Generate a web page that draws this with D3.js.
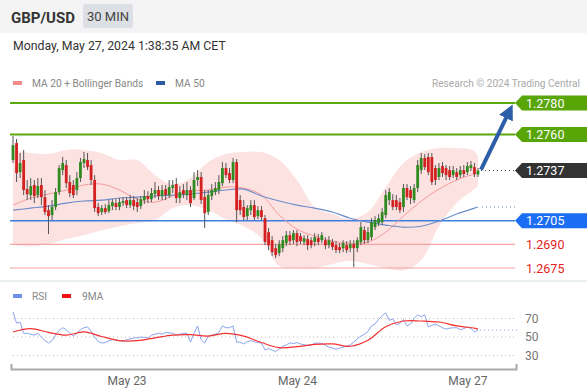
<!DOCTYPE html>
<html><head><meta charset="utf-8">
<script src="https://cdn.jsdelivr.net/npm/d3@7"></script>
<style>
body{margin:0;background:#fff;}
svg{display:block;font-family:Roboto,"Liberation Sans",Arial,sans-serif;}
</style>
</head><body>
<svg id="c" width="587" height="391"></svg>
<script>
// ---- data (GBP/USD, 30 min candles, May 22 08:00 -> May 27 01:30) ----
const openP = [1.27437,1.27545,1.27360,1.27437,1.27252,1.27214,1.27278,1.27214,1.27278,1.27201,
1.27118,1.27087,1.27138,1.27233,1.27373,1.27405,1.27297,1.27278,1.27246,1.27322,
1.27418,1.27437,1.27405,1.27310,1.27138,1.27106,1.27131,1.27112,1.27144,1.27163,
1.27138,1.27163,1.27182,1.27150,1.27182,1.27169,1.27144,1.27182,1.27208,1.27188,
1.27220,1.27246,1.27208,1.27252,1.27214,1.27259,1.27284,1.27195,1.27246,1.27214,
1.27246,1.27195,1.27310,1.27329,1.27201,1.27106,1.27208,1.27233,1.27246,1.27290,
1.27386,1.27354,1.27310,1.27424,1.27182,1.27138,1.27080,1.27118,1.27150,1.27080,
1.27118,1.27067,1.26978,1.26927,1.26876,1.26845,1.26876,1.26908,1.26959,1.26927,
1.26972,1.26953,1.26915,1.26934,1.26927,1.26915,1.26940,1.26927,1.26927,1.26895,
1.26915,1.26895,1.26883,1.26876,1.26895,1.26876,1.26902,1.26876,1.26915,1.26991,
1.26927,1.26946,1.27010,1.27036,1.27042,1.27087,1.27182,1.27182,1.27182,1.27169,
1.27138,1.27259,1.27246,1.27182,1.27259,1.27373,1.27450,1.27456,1.27456,1.27386,
1.27329,1.27399,1.27386,1.27373,1.27341,1.27360,1.27341,1.27373,1.27360,1.27386,
1.27392,1.27345];
const highP = [1.27590,1.27571,1.27482,1.27501,1.27310,1.27322,1.27310,1.27322,1.27322,1.27246,
1.27150,1.27182,1.27259,1.27405,1.27456,1.27437,1.27341,1.27310,1.27360,1.27450,
1.27488,1.27482,1.27437,1.27341,1.27163,1.27150,1.27157,1.27182,1.27188,1.27188,
1.27195,1.27201,1.27201,1.27214,1.27208,1.27195,1.27208,1.27246,1.27239,1.27259,
1.27297,1.27271,1.27278,1.27278,1.27310,1.27310,1.27322,1.27271,1.27284,1.27297,
1.27271,1.27360,1.27373,1.27360,1.27246,1.27246,1.27284,1.27297,1.27341,1.27424,
1.27418,1.27386,1.27450,1.27443,1.27214,1.27182,1.27150,1.27182,1.27182,1.27144,
1.27144,1.27087,1.27004,1.26953,1.26902,1.26927,1.26953,1.26985,1.26985,1.26991,
1.26991,1.26972,1.26959,1.26959,1.26946,1.26972,1.26966,1.26978,1.26946,1.26953,
1.26934,1.26921,1.26908,1.26927,1.26921,1.26927,1.26927,1.26946,1.27042,1.27016,
1.27010,1.27067,1.27080,1.27093,1.27131,1.27246,1.27259,1.27220,1.27214,1.27195,
1.27284,1.27284,1.27271,1.27284,1.27437,1.27482,1.27475,1.27482,1.27482,1.27405,
1.27418,1.27424,1.27405,1.27399,1.27399,1.27386,1.27399,1.27405,1.27424,1.27431,
1.27418,1.27386];
const lowP = [1.27418,1.27297,1.27322,1.27214,1.27182,1.27182,1.27163,1.27195,1.27150,1.27087,
1.26966,1.27055,1.27118,1.27214,1.27341,1.27259,1.27201,1.27195,1.27214,1.27297,
1.27386,1.27373,1.27278,1.27106,1.27080,1.27087,1.27093,1.27099,1.27118,1.27118,
1.27118,1.27144,1.27131,1.27131,1.27118,1.27106,1.27125,1.27157,1.27163,1.27169,
1.27195,1.27182,1.27182,1.27182,1.27195,1.27227,1.27163,1.27163,1.27195,1.27182,
1.27138,1.27182,1.27271,1.27157,1.27004,1.27087,1.27182,1.27214,1.27220,1.27271,
1.27322,1.27290,1.27290,1.27042,1.27087,1.27055,1.27055,1.27087,1.27055,1.27061,
1.27055,1.26895,1.26864,1.26825,1.26813,1.26825,1.26851,1.26889,1.26895,1.26902,
1.26889,1.26902,1.26895,1.26864,1.26876,1.26889,1.26895,1.26908,1.26870,1.26876,
1.26864,1.26845,1.26845,1.26851,1.26845,1.26851,1.26755,1.26851,1.26895,1.26902,
1.26908,1.26927,1.26991,1.27016,1.27023,1.27067,1.27150,1.27118,1.27118,1.27099,
1.27106,1.27182,1.27157,1.27163,1.27233,1.27348,1.27373,1.27341,1.27278,1.27278,
1.27310,1.27329,1.27310,1.27310,1.27322,1.27310,1.27322,1.27329,1.27341,1.27367,
1.27329,1.27329];
const closeP = [1.27532,1.27354,1.27418,1.27246,1.27220,1.27271,1.27208,1.27271,1.27201,1.27106,
1.27080,1.27138,1.27233,1.27386,1.27418,1.27290,1.27227,1.27214,1.27322,1.27424,
1.27443,1.27392,1.27310,1.27131,1.27099,1.27131,1.27106,1.27150,1.27169,1.27138,
1.27169,1.27176,1.27150,1.27182,1.27144,1.27138,1.27188,1.27208,1.27188,1.27227,
1.27246,1.27208,1.27246,1.27214,1.27265,1.27278,1.27195,1.27233,1.27220,1.27246,
1.27163,1.27310,1.27329,1.27182,1.27099,1.27214,1.27246,1.27259,1.27297,1.27386,
1.27341,1.27310,1.27424,1.27118,1.27118,1.27074,1.27131,1.27150,1.27074,1.27118,
1.27074,1.26915,1.26895,1.26851,1.26832,1.26902,1.26927,1.26959,1.26921,1.26972,
1.26915,1.26921,1.26940,1.26895,1.26895,1.26946,1.26915,1.26959,1.26895,1.26927,
1.26883,1.26864,1.26864,1.26908,1.26864,1.26902,1.26876,1.26927,1.27010,1.26927,
1.26978,1.27042,1.27055,1.27067,1.27106,1.27214,1.27233,1.27138,1.27138,1.27118,
1.27259,1.27201,1.27195,1.27259,1.27405,1.27450,1.27392,1.27360,1.27297,1.27310,
1.27386,1.27354,1.27341,1.27329,1.27373,1.27329,1.27373,1.27348,1.27399,1.27405,
1.27348,1.27370];

// indicator samples (every 5th candle, plus the last candle)
const indIdx = [0,5,10,15,20,25,30,35,40,45,50,55,60,65,70,75,80,85,90,95,100,105,110,115,120,125,130,131];
const bbUpper = [1.27501,1.27482,1.27475,1.27501,1.27501,1.27482,1.27437,1.27437,1.27341,1.27284,1.27322,1.27424,1.27475,1.27488,1.27488,1.27437,1.27310,1.27138,1.27093,1.27061,1.27106,1.27265,1.27418,1.27488,1.27513,1.27513,1.27494,1.27456];
const bbLower = [1.26895,1.26889,1.26902,1.26934,1.26959,1.26991,1.27016,1.27036,1.27055,1.27131,1.27150,1.27118,1.27061,1.27016,1.26940,1.26762,1.26749,1.26749,1.26775,1.26794,1.26775,1.26749,1.26736,1.26800,1.27016,1.27163,1.27252,1.27271];
const ma20 = [1.27150,1.27195,1.27220,1.27246,1.27278,1.27284,1.27246,1.27188,1.27169,1.27208,1.27239,1.27246,1.27265,1.27259,1.27214,1.27087,1.26997,1.26953,1.26921,1.26908,1.26915,1.26978,1.27080,1.27176,1.27252,1.27310,1.27348,1.27354];
const ma50 = [1.27118,1.27131,1.27144,1.27163,1.27176,1.27182,1.27195,1.27201,1.27208,1.27214,1.27220,1.27233,1.27246,1.27252,1.27208,1.27176,1.27150,1.27131,1.27106,1.27067,1.27042,1.27023,1.27010,1.27016,1.27048,1.27093,1.27131,1.27138];

const rsi = [77,65,66,54,54,53,52,54,50,46,43.5,46,52,57,60,58,54,51,54,58,
60,61,56,50,45,43.5,44,46,47,47,46,45.5,47,48,49,49,50,49.5,49,52,
53,54,53,55,54.5,54,52,53,54,54,44.5,54,62,47,43.5,51,52,53,55,62,
60,60,62,44.5,44.5,42.5,45,46,45,44,43.5,36,37.5,36,34,37.5,40,41.5,43.5,43,
44,42.5,41.5,41,41.5,43,43.5,43,41,39,38,37,38,39,40,41.5,44.5,48,51,53,
56,62,64,69,73,76,68,69.5,63,65,69,62,64,70,74,72,74,61,62.5,64,
62,60,58.5,59.5,60,60,58,59,61,59,55.5,57.5];
const rsiMA = [55.4,59,55,52,55.5,50.5,46,46,49,52,52.5,51,54,51,44,38.5,39.5,42,42.5,40,46.5,61,67.3,67.3,66.2,62,59.5,58.5];

const levels = [
  {v:1.2780, label:"1.2780", kind:"res"},
  {v:1.2760, label:"1.2760", kind:"res"},
  {v:1.2705, label:"1.2705", kind:"piv"},
  {v:1.2690, label:"1.2690", kind:"sup"},
  {v:1.2675, label:"1.2675", kind:"sup"}
];
const lastLabel = "1.2737";
const xTickIdx = [32, 80, 128];
const xTickLabels = ["May 23", "May 24", "May 27"];
const rsiTicks = [30, 50, 70];

// ---- drawing ----
const svg = d3.select("#c");
const candles = closeP.map((c,i)=>({i, o:openP[i], h:highP[i], l:lowP[i], c}));
const n = candles.length;

const x = d3.scaleLinear().domain([0, n-1]).range([13, 478]);
const y = d3.scaleLinear().domain([1.2675, 1.2780]).range([268, 103]);
const ry = d3.scaleLinear().domain([30, 70]).range([355.5, 318.5]);

// header
svg.append("rect").attr("x",0).attr("y",0).attr("width",587).attr("height",33).attr("fill","#f4f4f4");
svg.append("text").attr("x",11).attr("y",22.5).attr("font-size",15).attr("font-weight","bold").attr("fill","#333").text("GBP/USD");
svg.append("rect").attr("x",83).attr("y",4).attr("width",50).attr("height",24).attr("rx",2).attr("fill","#dcdfe3");
svg.append("text").attr("x",108).attr("y",21).attr("text-anchor","middle").attr("font-size",13).attr("fill","#444").text("30 MIN");
svg.append("text").attr("x",13).attr("y",49.5).attr("font-size",12.3).attr("fill","#333").text("Monday, May 27, 2024 1:38:35 AM CET");

// legend
svg.append("rect").attr("x",13).attr("y",81).attr("width",9).attr("height",4).attr("fill","#f28b8b");
svg.append("text").attr("x",32).attr("y",86.5).attr("font-size",10.2).attr("fill","#888").text("MA 20 + Bollinger Bands");
svg.append("rect").attr("x",156).attr("y",81).attr("width",9).attr("height",4).attr("fill","#2c5aa0");
svg.append("text").attr("x",175).attr("y",86.5).attr("font-size",10.2).attr("fill","#888").text("MA 50");
svg.append("text").attr("x",580).attr("y",86.5).attr("text-anchor","end").attr("font-size",10.1).attr("fill","#aaa").text("Research \u00a9 2024 Trading Central");

// bollinger band
const ind = indIdx.map((k,j)=>({k, up:bbUpper[j], lo:bbLower[j], m20:ma20[j], m50:ma50[j], r:rsiMA[j]}));
svg.append("path").datum(ind)
  .attr("d", d3.area().x(d=>x(d.k)).y0(d=>y(d.lo)).y1(d=>y(d.up)).curve(d3.curveCatmullRom))
  .attr("fill","#fde2e2");

// level lines
const lineX0 = 10, lineX1 = 515;
levels.forEach(L=>{
  const col = L.kind==="res" ? "#5aa80c" : L.kind==="piv" ? "#3d7fe0" : "#f6a3a3";
  const w = L.kind==="res" ? 2 : L.kind==="piv" ? 1.5 : 1.2;
  svg.append("line").attr("x1",lineX0).attr("x2",lineX1).attr("y1",y(L.v)).attr("y2",y(L.v))
    .attr("stroke",col).attr("stroke-width",w);
});

// MA lines
svg.append("path").datum(ind)
  .attr("d", d3.line().x(d=>x(d.k)).y(d=>y(d.m20)).curve(d3.curveCatmullRom))
  .attr("fill","none").attr("stroke","#f59a9a").attr("stroke-width",1);
svg.append("path").datum(ind)
  .attr("d", d3.line().x(d=>x(d.k)).y(d=>y(d.m50)).curve(d3.curveCatmullRom))
  .attr("fill","none").attr("stroke","#6b8ecb").attr("stroke-width",1.1);
const lastM50 = ma50[ma50.length-1];
svg.append("line").attr("x1",x(n-1)+4).attr("x2",lineX1).attr("y1",y(lastM50)).attr("y2",y(lastM50))
  .attr("stroke","#6b8ecb").attr("stroke-width",1).attr("stroke-dasharray","1,3");

// candles
const cg = svg.append("g");
cg.selectAll("line.w").data(candles).join("line")
  .attr("x1",d=>x(d.i)).attr("x2",d=>x(d.i)).attr("y1",d=>y(d.h)).attr("y2",d=>y(d.l))
  .attr("stroke","#555").attr("stroke-width",1);
const bw = 2.8;
cg.selectAll("rect").data(candles).join("rect")
  .attr("x",d=>x(d.i)-bw/2).attr("width",bw)
  .attr("y",d=>y(Math.max(d.o,d.c))).attr("height",d=>Math.max(1,Math.abs(y(d.o)-y(d.c))))
  .attr("fill",d=>d.c>=d.o ? "#2f8a1f" : "#d32020");

// last price dotted line
const lastC = closeP[n-1];
svg.append("line").attr("x1",x(n-1)+3).attr("x2",lineX1).attr("y1",y(+lastLabel)).attr("y2",y(+lastLabel))
  .attr("stroke","#444").attr("stroke-width",1).attr("stroke-dasharray","1,3");

// arrow
const defs = svg.append("defs");
defs.append("marker").attr("id","ah").attr("viewBox","0 0 10 10").attr("refX",6).attr("refY",5)
  .attr("markerWidth",3.8).attr("markerHeight",3.8).attr("orient","auto")
  .append("path").attr("d","M0,0 L10,5 L0,10 Z").attr("fill","#2d5ea8");
svg.append("line").attr("x1",x(n-1)+3).attr("y1",y(lastC)-1).attr("x2",510).attr("y2",y(1.2780)+7)
  .attr("stroke","#2d5ea8").attr("stroke-width",4).attr("marker-end","url(#ah)");

// right labels
function tagPath(cy){ const h=7.5; return `M515,${cy} L522,${cy-h} L587,${cy-h} L587,${cy+h} L522,${cy+h} Z`; }
levels.forEach(L=>{
  const cy = y(L.v);
  if (L.kind==="sup") {
    svg.append("text").attr("x",526).attr("y",cy+4.5).attr("font-size",12.5).attr("fill","#e82323").text(L.label);
  } else {
    svg.append("path").attr("d",tagPath(cy)).attr("fill", L.kind==="res" ? "#58a508" : "#1b6ef3");
    svg.append("text").attr("x",526).attr("y",cy+4.5).attr("font-size",12.5).attr("fill","#fff").text(L.label);
  }
});
{
  const cy = y(+lastLabel);
  svg.append("path").attr("d",tagPath(cy)).attr("fill","#333");
  svg.append("text").attr("x",526).attr("y",cy+4.5).attr("font-size",12.5).attr("fill","#fff").text(lastLabel);
}

// separator
svg.append("line").attr("x1",0).attr("x2",587).attr("y1",281).attr("y2",281).attr("stroke","#eaeff1").attr("stroke-width",2);

// RSI legend
svg.append("rect").attr("x",13).attr("y",294).attr("width",9).attr("height",4).attr("fill","#6f8fe6");
svg.append("text").attr("x",32).attr("y",299.5).attr("font-size",10.2).attr("fill","#888").text("RSI");
svg.append("rect").attr("x",62).attr("y",294).attr("width",9).attr("height",4).attr("fill","#f01010");
svg.append("text").attr("x",82).attr("y",299.5).attr("font-size",10.2).attr("fill","#888").text("9MA");

// RSI grid & axis
rsiTicks.forEach(t=>{
  svg.append("line").attr("x1",13).attr("x2",517).attr("y1",ry(t)).attr("y2",ry(t))
    .attr("stroke","#bbb").attr("stroke-width",1).attr("stroke-dasharray","1,3");
});
const ra = svg.append("g").attr("transform","translate(517,0)")
  .call(d3.axisRight(ry).tickValues(rsiTicks).tickSize(0).tickPadding(8));
ra.select(".domain").remove();
ra.selectAll("text").attr("font-size",12).attr("fill","#777").attr("font-family","Roboto, 'Liberation Sans', Arial, sans-serif");

// RSI lines
svg.append("path").datum(rsi)
  .attr("d", d3.line().x((d,i)=>x(i)).y(d=>ry(d)))
  .attr("fill","none").attr("stroke","#8aa5ee").attr("stroke-width",1);
svg.append("line").attr("x1",x(n-1)+2).attr("x2",517).attr("y1",ry(rsi[n-1])).attr("y2",ry(rsi[n-1]))
  .attr("stroke","#8aa5ee").attr("stroke-width",1).attr("stroke-dasharray","1,3");
svg.append("path").datum(ind)
  .attr("d", d3.line().x(d=>x(d.k)).y(d=>ry(d.r)).curve(d3.curveCatmullRom))
  .attr("fill","none").attr("stroke","#f53030").attr("stroke-width",1.2);

// x axis
const xa = x.copy().domain([x.invert(11), x.invert(516)]).range([11,516]);
const xg = svg.append("g").attr("transform","translate(0,369)")
  .call(d3.axisBottom(xa).tickValues(xTickIdx).tickFormat((d,i)=>xTickLabels[i]).tickSize(0).tickSizeOuter(-5).tickPadding(7));
xg.select(".domain").attr("stroke","#aaa").attr("stroke-width",2);
xg.selectAll("text").attr("font-size",12).attr("fill","#666").attr("font-family","Roboto, 'Liberation Sans', Arial, sans-serif");
</script>
</body></html>
